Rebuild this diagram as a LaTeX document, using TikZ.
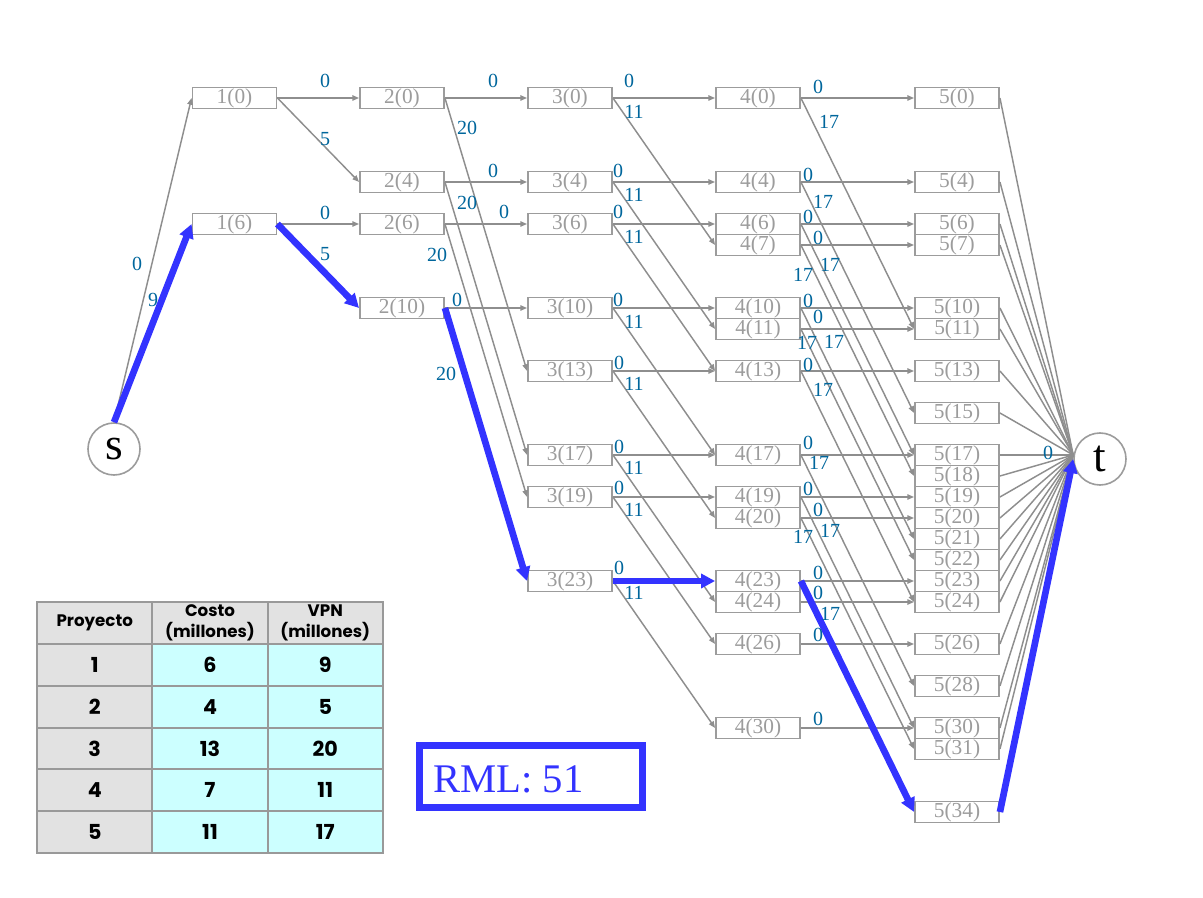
\documentclass[tikz,border=0pt]{standalone}
\usepackage{fontspec}
\setmainfont{Liberation Serif}
\newfontfamily\tabfont{Poppins}
\usetikzlibrary{arrows.meta}
\definecolor{lblc}{HTML}{00669C}
\definecolor{boxc}{HTML}{9C9C9C}
\definecolor{edgec}{HTML}{8E8E8E}
\definecolor{hlc}{HTML}{3333FF}
\definecolor{hdrc}{HTML}{E2E2E2}
\definecolor{cellc}{HTML}{CCFFFF}
\definecolor{tabline}{HTML}{999999}
\begin{document}
\begin{tikzpicture}[x=0.75pt,y=-0.75pt,
  box/.style={draw=boxc, line width=1.4pt, minimum width=63pt, minimum height=15.75pt, inner sep=0pt, text=boxc, font=\fontsize{16}{16}\selectfont},
  edge/.style={draw=edgec, line width=1.1pt, -{Triangle[length=5pt,width=4pt]}},
  plain/.style={draw=edgec, line width=1.1pt},
  hl/.style={draw=hlc, line width=5pt, -{Triangle[length=10.5pt,width=10.5pt]}},
  lbl/.style={text=lblc, font=\fontsize{15}{15}\selectfont, inner sep=0pt},
  term/.style={circle, draw=boxc, line width=1.2pt, minimum size=39pt, inner sep=0pt, font=\fontsize{34}{34}\selectfont},
  cell/.style={draw=tabline, line width=1.5pt, minimum width=86.5pt, minimum height=31.35pt, inner sep=0pt, align=center, font=\tabfont\bfseries\fontsize{15.5}{16}\selectfont},
  hcell/.style={cell, fill=hdrc, font=\tabfont\bfseries\fontsize{12.5}{15.75}\selectfont},
  gcell/.style={cell, fill=hdrc},
  ccell/.style={cell, fill=cellc},
  rmlbox/.style={draw=hlc, line width=5.25pt, minimum width=167.25pt, minimum height=46.5pt, inner sep=0pt},
  rmltxt/.style={text=hlc, font=\fontsize{30.5}{30.5}\selectfont, inner sep=0pt}
]
\useasboundingbox (0,0) rectangle (1203,898);

% terminals
\node[term] (s) at (114,449) {s};
\node[term] (t) at (1100,459) {t};
\coordinate (tin) at ([yshift=3pt]t.west);

% stage nodes
\foreach \v in {0,6} \node[box] (n1-\v) at (234.5,{98+21*\v}) {1(\v)};
\foreach \v in {0,4,6,10} \node[box] (n2-\v) at (402,{98+21*\v}) {2(\v)};
\foreach \v in {0,4,6,10,13,17,19,23} \node[box] (n3-\v) at (570,{98+21*\v}) {3(\v)};
\foreach \v in {0,4,6,7,10,11,13,17,19,20,23,24,26,30} \node[box] (n4-\v) at (758,{98+21*\v}) {4(\v)};
\foreach \v in {0,4,6,7,10,11,13,15,17,18,19,20,21,22,23,24,26,28,30,31,34} \node[box] (n5-\v) at (957,{98+21*\v}) {5(\v)};

% gray edges
\draw[edge] (s.north) -- (n1-0.west);
\foreach \a/\b in {0/0,0/4,6/6} \draw[edge] (n1-\a.east) -- (n2-\b.west);
\foreach \a/\b in {0/0,0/13,4/4,4/17,6/6,6/19,10/10} \draw[edge] (n2-\a.east) -- (n3-\b.west);
\foreach \a/\b in {0/0,0/7,4/4,4/11,6/6,6/13,10/10,10/17,13/13,13/20,17/17,17/24,19/19,19/26,23/30} \draw[edge] (n3-\a.east) -- (n4-\b.west);
\foreach \a/\b in {0/0,0/11,4/4,4/15,6/6,6/17,7/7,7/18,10/10,10/21,11/11,11/22,13/13,13/24,17/17,17/28,19/19,19/30,20/20,20/31,23/23,24/24,26/26,30/30} \draw[edge] (n4-\a.east) -- (n5-\b.west);
\foreach \v in {0,4,6,7,10,11,13,15,17,18,19,20,21,22,23,24,26,28,30,31} \draw[plain] (n5-\v.east) -- (tin);

% highlighted path
\draw[hl] (s.north) -- (n1-6.west);
\draw[hl] (n1-6.east) -- (n2-10.west);
\draw[hl] (n2-10.east) -- (n3-23.west);
\draw[hl] (n3-23.east) -- (n4-23.west);
\draw[hl] (n4-23.east) -- (n5-34.west);
\draw[hl] (n5-34.east) -- (t.west);

% edge labels
\foreach \x/\y/\txt [count=\i] in {
  137/264/0, 153/300/9,
  325/81/0, 325/139/5, 325/213/0, 325/254/5,
  493/81/0, 467/128/20, 493/171/0, 467/203/20, 504/212/0, 437/255/20, 457/300/0, 446/374/20,
  629/81/0, 634/112/11, 618/171/0, 634/195/11, 618/212/0, 634/237/11, 618/300/0, 634/322/11,
  619/363/0, 634/384/11, 619/447/0, 634/468/11, 619/488/0, 634/510/11, 619/568/0, 634/593/11,
  818/87/0, 829/122/17, 808/175/0, 823/202/17, 808/217/0, 830/265/17, 818/238/0, 803/275/17,
  808/301/0, 834/342/17, 818/317/0, 807/343/17, 808/365/0, 823/390/17, 808/443/0, 819/463/17,
  808/489/0, 830/531/17, 818/510/0, 803/537/17, 818/573/0, 830/614/17, 818/593/0, 818/635/0,
  818/719/0, 1048/453/0}
  \node[lbl] (lab\i) at (\x,\y) {\txt};

% table
\node[hcell] (h1) at (94.75,623) {Proyecto};
\node[hcell] (h2) at (210,623) {Costo\\(millones)};
\node[hcell] (h3) at (325.25,623) {VPN\\(millones)};
\foreach \p/\c/\r [count=\k] in {1/6/9, 2/4/5, 3/13/20, 4/7/11, 5/11/17} {
  \node[gcell] (p\k) at (94.75,{623+41.8*\k}) {\p};
  \node[ccell] (c\k) at (210,{623+41.8*\k}) {\c};
  \node[ccell] (r\k) at (325.25,{623+41.8*\k}) {\r};
}

% RML
\node[rmlbox] (rml) at (531,776.5) {};
\node[rmltxt, anchor=base west] (rmltext) at (433,792) {RML: 51};
\end{tikzpicture}
\end{document}
